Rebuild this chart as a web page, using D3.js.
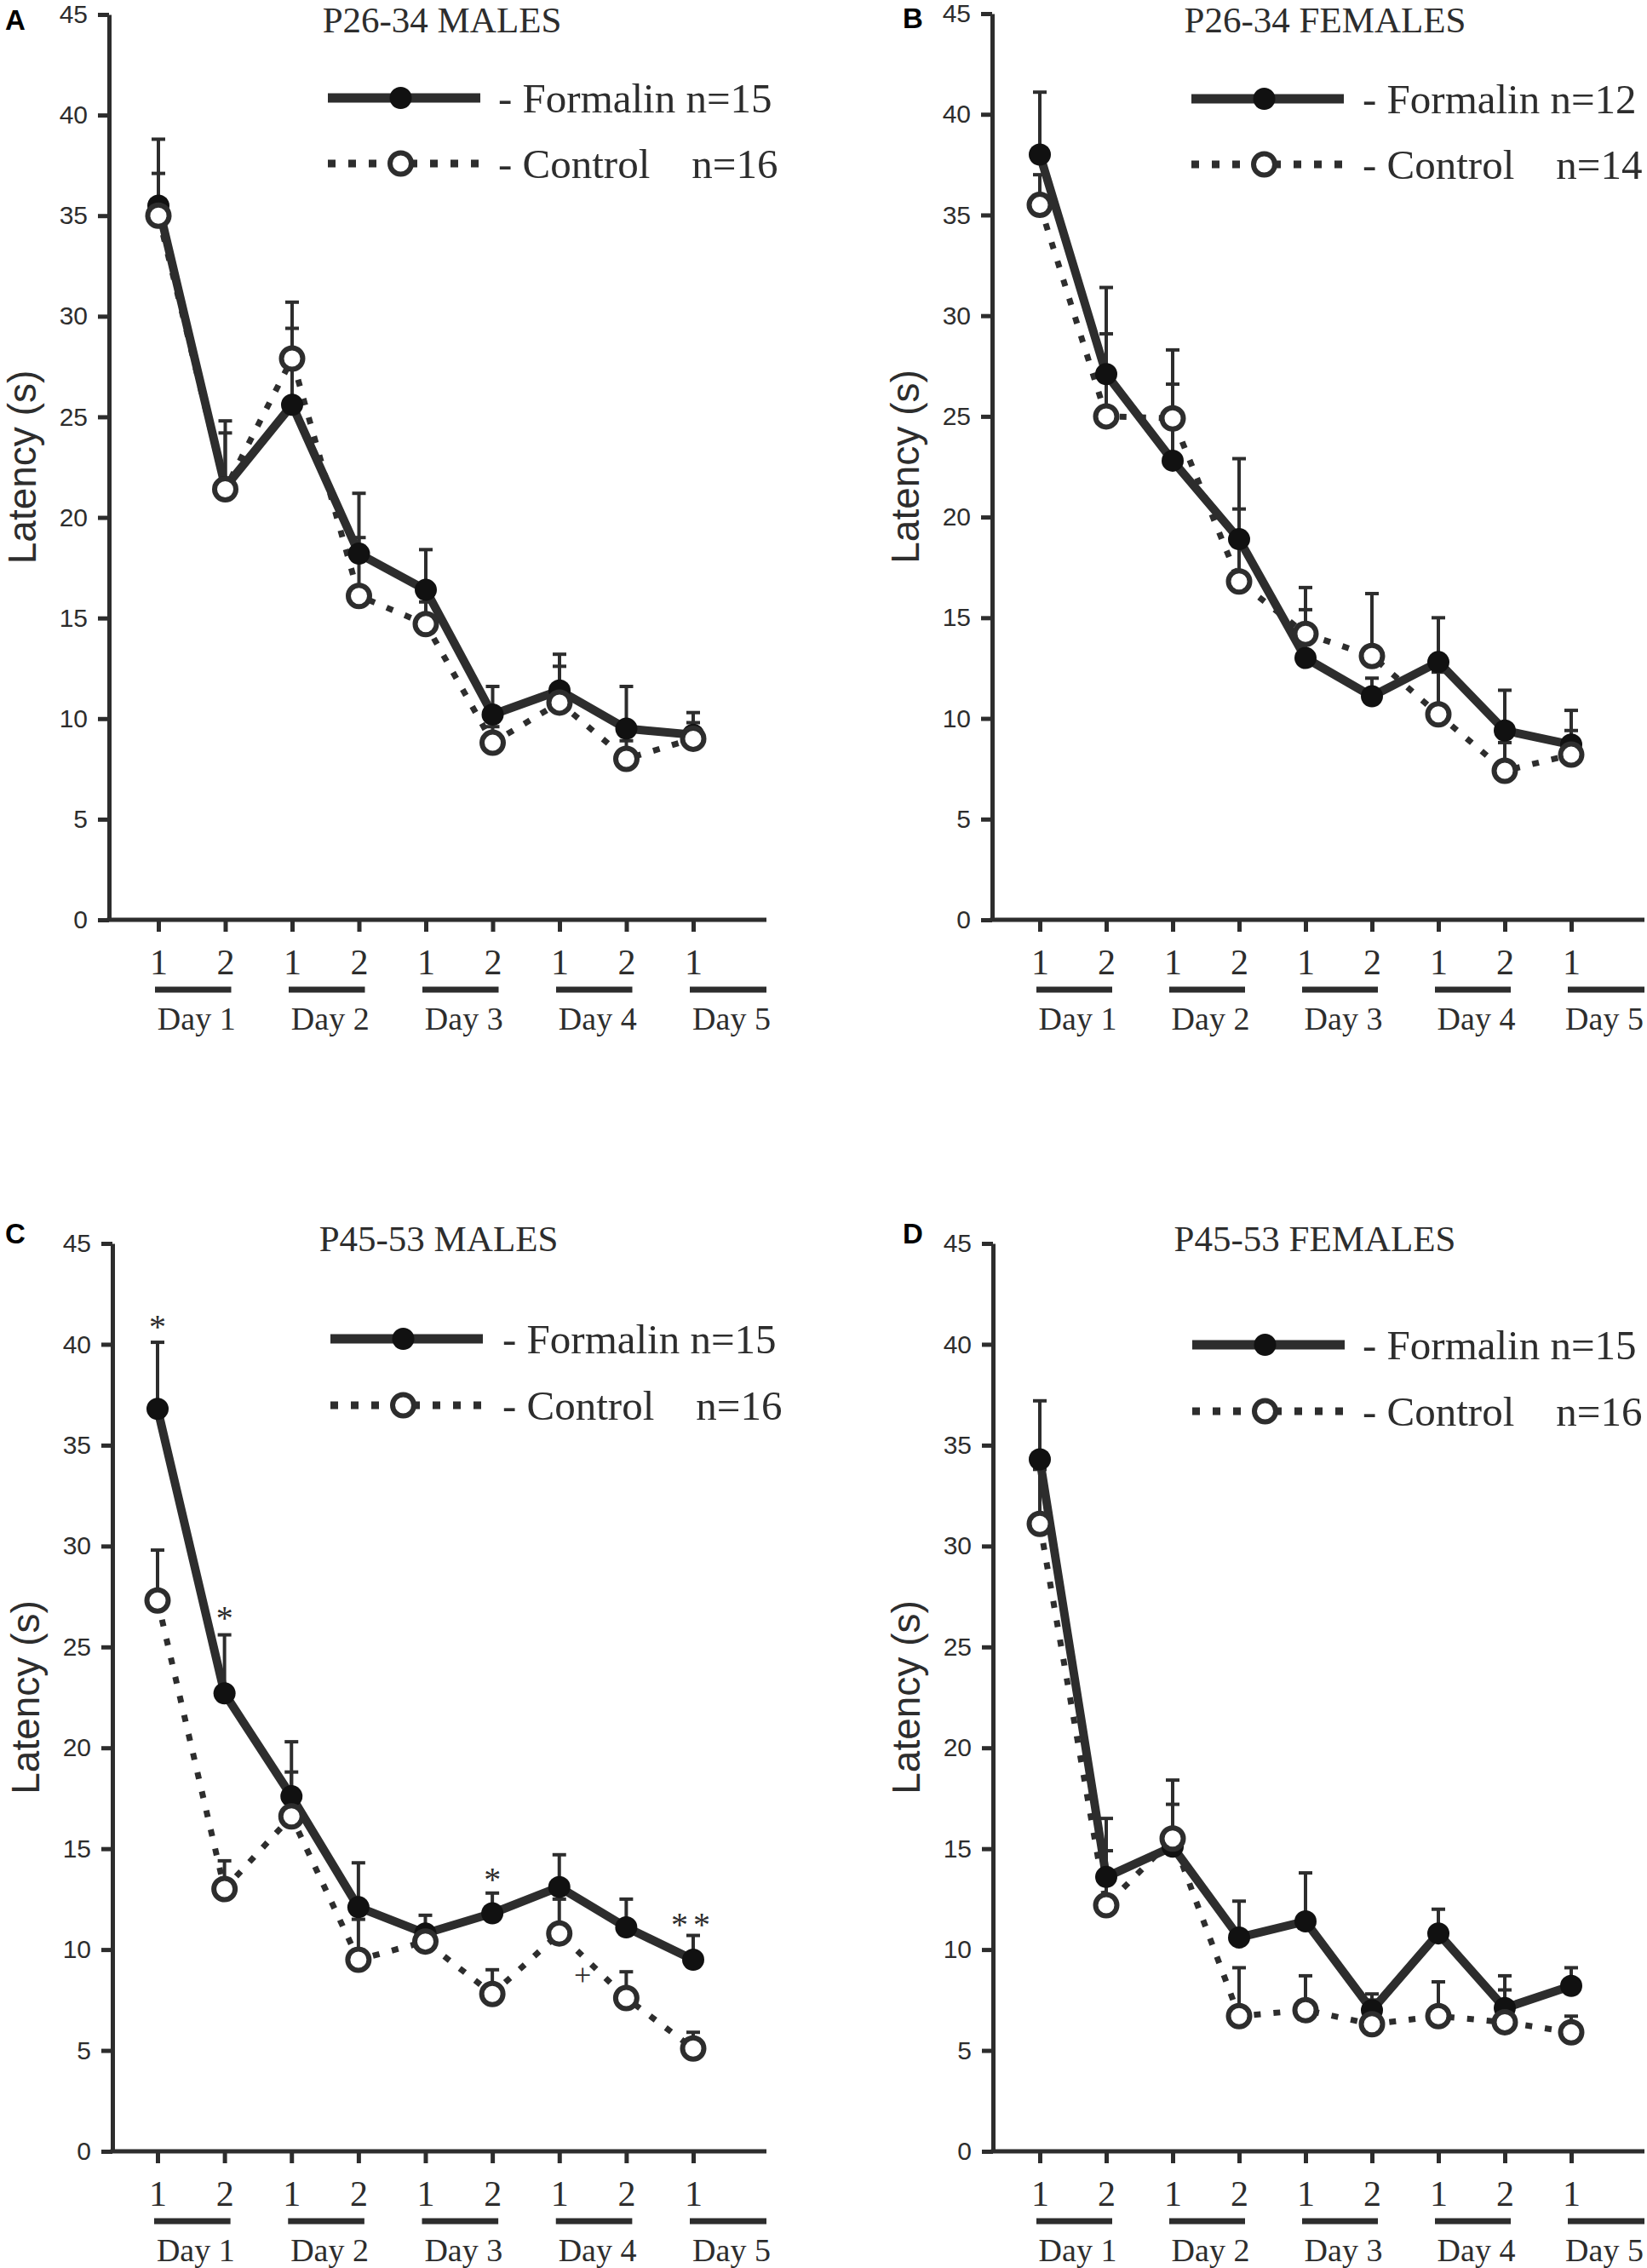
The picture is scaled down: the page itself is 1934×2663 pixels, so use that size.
<!DOCTYPE html>
<html><head><meta charset="utf-8">
<script src="https://cdn.jsdelivr.net/npm/d3@7"></script>
<style>body{margin:0;background:#fff}</style>
</head><body>
<svg id="chart" width="1934" height="2663" xmlns="http://www.w3.org/2000/svg"></svg>
<script>
// ---------- data ----------
const sessionLabels = ["1","2","1","2","1","2","1","2","1"];
const dayLabels = ["Day 1","Day 2","Day 3","Day 4","Day 5"];
const yTicks = [0,5,10,15,20,25,30,35,40,45];

const formalinA = [35.5, 21.5, 25.6, 18.2, 16.4, 10.2, 11.4, 9.5, 9.2];
const formalinSemA = [3.3, 3.3, 3.8, 3.0, 2.0, 1.4, 1.8, 2.1, 1.1];
const controlA = [35.0, 21.4, 27.9, 16.1, 14.7, 8.8, 10.8, 8.0, 9.0];
const controlSemA = [2.1, 2.8, 2.8, 2.9, 1.1, 0.8, 1.8, 0.9, 0.8];

const formalinB = [38.0, 27.1, 22.8, 18.9, 13.0, 11.1, 12.8, 9.4, 8.7];
const formalinSemB = [3.1, 4.3, 3.8, 4.0, 2.4, 0.9, 2.2, 2.0, 1.7];
const controlB = [35.5, 25.0, 24.9, 16.8, 14.2, 13.1, 10.2, 7.4, 8.2];
const controlSemB = [1.5, 4.1, 3.4, 3.6, 2.3, 3.1, 2.1, 1.4, 1.2];

const formalinC = [36.8, 22.7, 17.6, 12.1, 10.8, 11.8, 13.1, 11.1, 9.5];
const formalinSemC = [3.3, 2.9, 2.7, 2.2, 0.9, 1.0, 1.6, 1.4, 1.2];
const controlC = [27.3, 13.0, 16.6, 9.5, 10.4, 7.8, 10.8, 7.6, 5.1];
const controlSemC = [2.5, 1.4, 2.2, 2.0, 0.7, 1.2, 1.7, 1.3, 0.8];

const formalinD = [34.3, 13.6, 15.1, 10.6, 11.4, 7.0, 10.8, 7.1, 8.2];
const formalinSemD = [2.9, 2.9, 2.1, 1.8, 2.4, 0.8, 1.2, 1.6, 0.9];
const controlD = [31.1, 12.2, 15.5, 6.7, 7.0, 6.3, 6.7, 6.4, 5.9];
const controlSemD = [2.7, 2.7, 2.9, 2.4, 1.7, 1.2, 1.7, 1.6, 0.8];

const titles = ["P26-34 MALES","P26-34 FEMALES","P45-53 MALES","P45-53 FEMALES"];
const letters = ["A","B","C","D"];
const nFormalin = [15, 12, 15, 15];
const nControl = [16, 14, 16, 16];

// significance marks in panel C: [session index, latency position, text]
const marksC = [[0, 41.1, "*"], [1, 26.7, "*"], [5, 13.7, "*"], [8, 11.5, "**"], [6.35, 8.7, "+"]];

// ---------- layout ----------
const layout = [
  {ax:128, x0:186, x1:814, yTop:17, yBot:1080, titleX:519, titleY:38, letX:6, letY:35, legA:385, legB:564, legT:585, legY1:115, legY2:192},
  {ax:1165, x0:1221, x1:1845, yTop:16, yBot:1080, titleX:1556, titleY:38, letX:1060, letY:33, legA:1399, legB:1578, legT:1600, legY1:116, legY2:193},
  {ax:132, x0:185, x1:814, yTop:1460, yBot:2526, titleX:515, titleY:1469, letX:6, letY:1460, legA:388, legB:567, legT:590, legY1:1572, legY2:1650},
  {ax:1166, x0:1221, x1:1845, yTop:1460, yBot:2526, titleX:1544, titleY:1469, letX:1060, letY:1460, legA:1400, legB:1579, legT:1600, legY1:1579, legY2:1657}
];
const series = [
  [formalinA, formalinSemA, controlA, controlSemA],
  [formalinB, formalinSemB, controlB, controlSemB],
  [formalinC, formalinSemC, controlC, controlSemC],
  [formalinD, formalinSemD, controlD, controlSemD]
];

const W = 1934;
const INK = "#2d2d2d";
const SERIF = "'Liberation Serif','Times New Roman',serif";
const SANS = "'Liberation Sans',Arial,sans-serif";
const svg = d3.select("#chart");

layout.forEach((p, k) => {
  const [fv, fs, cv, cs] = series[k];
  const g = svg.append("g");
  const x = d3.scaleLinear().domain([0, 8]).range([p.x0, p.x1]);
  const y = d3.scaleLinear().domain([0, 45]).range([p.yBot, p.yTop]);
  const axEnd = Math.min(p.x1 + 86, W - 3);

  // y axis
  const ya = g.append("g").attr("transform", `translate(${p.ax},0)`)
    .call(d3.axisLeft(y).tickValues(yTicks).tickSize(13).tickSizeOuter(0).tickPadding(12));
  ya.select(".domain").attr("stroke", INK).attr("stroke-width", 5);
  ya.selectAll(".tick line").attr("stroke", INK).attr("stroke-width", 5);
  ya.selectAll(".tick text").attr("font-family", SANS).attr("font-size", 30).attr("fill", INK);

  // x axis
  const xa = g.append("g").attr("transform", `translate(0,${p.yBot})`)
    .call(d3.axisBottom(x).tickValues(d3.range(9)).tickFormat(i => sessionLabels[i])
      .tickSize(14).tickSizeOuter(0).tickPadding(20));
  xa.select(".domain").remove();
  xa.selectAll(".tick line").attr("stroke", INK).attr("stroke-width", 5);
  xa.selectAll(".tick text").attr("font-family", SERIF).attr("font-size", 42).attr("fill", INK);
  g.append("line").attr("x1", p.ax - 2.5).attr("x2", axEnd)
    .attr("y1", p.yBot).attr("y2", p.yBot).attr("stroke", INK).attr("stroke-width", 5);

  // day bars + labels
  dayLabels.forEach((d, i) => {
    const a = x(2 * i) - 4;
    const b = i < 4 ? x(2 * i + 1) + 7 : axEnd;
    g.append("line").attr("x1", a).attr("x2", b).attr("y1", p.yBot + 82).attr("y2", p.yBot + 82)
      .attr("stroke", INK).attr("stroke-width", 7);
    const cx = Math.min((a + b) / 2 + 4, W - 50);
    g.append("text").attr("x", cx).attr("y", p.yBot + 129)
      .attr("text-anchor", "middle").attr("font-family", SERIF).attr("font-size", 38)
      .attr("fill", INK).text(d);
  });

  // y label
  g.append("text").attr("transform", `translate(${p.ax - 86},${(p.yTop + p.yBot) / 2}) rotate(-90)`)
    .attr("text-anchor", "middle").attr("font-family", SANS).attr("font-size", 46)
    .attr("fill", INK).text("Latency (s)");

  // title, panel letter
  g.append("text").attr("x", p.titleX).attr("y", p.titleY).attr("text-anchor", "middle")
    .attr("font-family", SERIF).attr("font-size", 43).attr("fill", INK).text(titles[k]);
  g.append("text").attr("x", p.letX).attr("y", p.letY).attr("font-family", SANS)
    .attr("font-weight", "bold").attr("font-size", 33).attr("fill", "#000").text(letters[k]);

  // error bars
  const errs = (vals, sems) => {
    vals.forEach((v, i) => {
      const top = y(v + sems[i]);
      g.append("line").attr("x1", x(i)).attr("x2", x(i)).attr("y1", y(v)).attr("y2", top)
        .attr("stroke", INK).attr("stroke-width", 4);
      g.append("line").attr("x1", x(i) - 8).attr("x2", x(i) + 8).attr("y1", top).attr("y2", top)
        .attr("stroke", INK).attr("stroke-width", 4);
    });
  };
  errs(fv, fs);
  errs(cv, cs);

  const line = d3.line().x((d, i) => x(i)).y(d => y(d));
  g.append("path").attr("d", line(cv)).attr("fill", "none").attr("stroke", INK)
    .attr("stroke-width", 7).attr("stroke-dasharray", "8 15");
  g.append("path").attr("d", line(fv)).attr("fill", "none").attr("stroke", INK)
    .attr("stroke-width", 10).attr("stroke-linejoin", "round");

  g.selectAll(".fm").data(fv).join("circle").attr("cx", (d, i) => x(i)).attr("cy", d => y(d))
    .attr("r", 13).attr("fill", "#111");
  g.selectAll(".cm").data(cv).join("circle").attr("cx", (d, i) => x(i)).attr("cy", d => y(d))
    .attr("r", 12.5).attr("fill", "#fff").attr("stroke", INK).attr("stroke-width", 6);

  // legend
  const mid = (p.legA + p.legB) / 2 - 4;
  g.append("line").attr("x1", p.legA).attr("x2", p.legB).attr("y1", p.legY1).attr("y2", p.legY1)
    .attr("stroke", INK).attr("stroke-width", 11);
  g.append("circle").attr("cx", mid).attr("cy", p.legY1).attr("r", 13).attr("fill", "#111");
  g.append("line").attr("x1", p.legA).attr("x2", p.legB).attr("y1", p.legY2).attr("y2", p.legY2)
    .attr("stroke", INK).attr("stroke-width", 9).attr("stroke-dasharray", "9 15");
  g.append("circle").attr("cx", mid).attr("cy", p.legY2).attr("r", 12.5).attr("fill", "#fff")
    .attr("stroke", INK).attr("stroke-width", 6);
  g.append("text").attr("x", p.legT).attr("y", p.legY1 + 17).attr("font-family", SERIF)
    .attr("font-size", 49).attr("fill", INK).text(`- Formalin n=${nFormalin[k]}`);
  g.append("text").attr("x", p.legT).attr("y", p.legY2 + 17).attr("font-family", SERIF)
    .attr("font-size", 49).attr("fill", INK).style("white-space", "pre")
    .text(`- Control    n=${nControl[k]}`);

  if (k === 2) {
    marksC.forEach(([i, v, t]) => {
      const fsz = t === "+" ? 36 : 40;
      const off = t === "+" ? 11 : 19;
      g.append("text").attr("x", x(i)).attr("y", y(v) + off).attr("text-anchor", "middle")
        .attr("font-family", SERIF).attr("font-size", fsz).attr("fill", INK)
        .attr("letter-spacing", t === "**" ? 6 : 0).text(t);
    });
  }
});
</script>
</body></html>
